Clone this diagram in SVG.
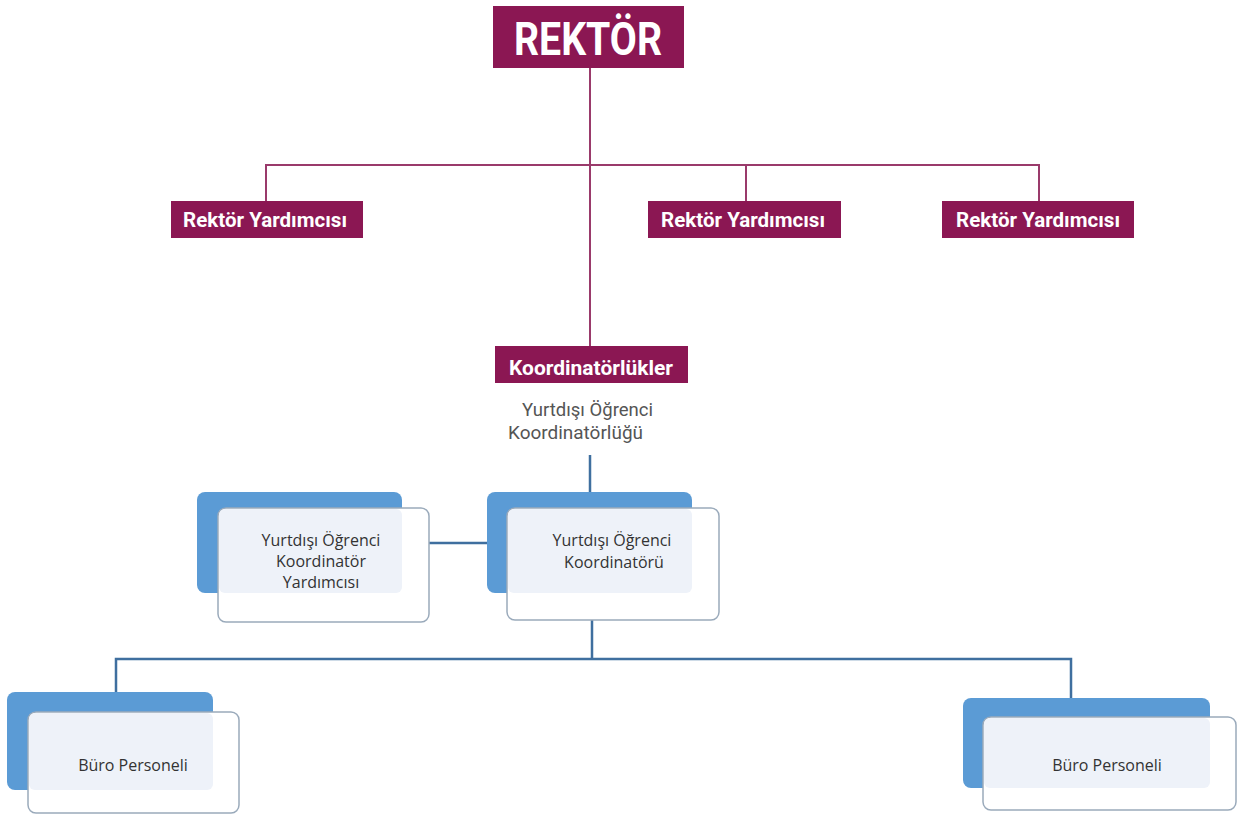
<svg xmlns="http://www.w3.org/2000/svg" width="1238" height="814" viewBox="0 0 1238 814">
<style>
.mr{fill:#8b1753}
.mt{font-family:Roboto,"Liberation Sans",sans-serif;font-weight:bold;fill:#fff}
.pl{stroke:#9a3a6b;stroke-width:2;fill:none}
.bl{stroke:#3f6f9f;stroke-width:2.5;fill:none}
.back{fill:#5b9bd5}
.front{fill:#fff;stroke:#9aaabb;stroke-width:1.5}
.inner{fill:#eef2f9}
.bt{font-family:"Open Sans","Liberation Sans",sans-serif;font-size:16px;fill:#333;text-anchor:middle}
.gt{font-family:Roboto,"Liberation Sans",sans-serif;font-size:19px;fill:#555}
</style>
<rect width="1238" height="814" fill="#fff"/>
<g id="connectors">
<path class="pl" d="M590 68V346M266 201V165H1039V201M746 165V201"/>
<path class="bl" d="M590 455V492M429 543H488M592 620V659M116 692V659H1071V698"/>
</g>
<g id="rektor"><rect class="mr" x="493" y="6" width="191" height="62"/><text class="mt" x="588" y="55" font-size="47" text-anchor="middle" textLength="148" lengthAdjust="spacingAndGlyphs">REKTÖR</text></g>
<g id="ry1"><rect class="mr" x="171" y="201" width="192" height="37"/><text class="mt" x="183" y="227" font-size="20" textLength="164" lengthAdjust="spacingAndGlyphs">Rektör Yardımcısı</text></g>
<g id="ry2"><rect class="mr" x="648" y="201" width="193" height="37"/><text class="mt" x="661" y="227" font-size="20" textLength="164" lengthAdjust="spacingAndGlyphs">Rektör Yardımcısı</text></g>
<g id="ry3"><rect class="mr" x="942" y="201" width="192" height="37"/><text class="mt" x="956" y="227" font-size="20" textLength="164" lengthAdjust="spacingAndGlyphs">Rektör Yardımcısı</text></g>
<g id="koord"><rect class="mr" x="495" y="346" width="193" height="37"/><text class="mt" x="509" y="375" font-size="20" textLength="164" lengthAdjust="spacingAndGlyphs">Koordinatörlükler</text></g>
<g id="yok-label"><text class="gt" x="522" y="416" textLength="131" lengthAdjust="spacingAndGlyphs">Yurtdışı Öğrenci</text><text class="gt" x="508" y="439" textLength="135" lengthAdjust="spacingAndGlyphs">Koordinatörlüğü</text></g>
<g id="yardimci">
<rect class="back" x="197" y="492" width="205" height="101" rx="8"/>
<rect class="front" x="218" y="508" width="211" height="114" rx="8"/>
<rect class="inner" x="219" y="509" width="183" height="84" rx="6"/>
<text class="bt" x="321" y="546">Yurtdışı Öğrenci</text><text class="bt" x="321" y="567">Koordinatör</text><text class="bt" x="321" y="588">Yardımcısı</text>
</g>
<g id="koordinator">
<rect class="back" x="487" y="492" width="205" height="101" rx="8"/>
<rect class="front" x="507" y="508" width="212" height="112" rx="8"/>
<rect class="inner" x="508" y="509" width="184" height="84" rx="6"/>
<text class="bt" x="612" y="546">Yurtdışı Öğrenci</text><text class="bt" x="614" y="568">Koordinatörü</text>
</g>
<g id="buro1">
<rect class="back" x="7" y="692" width="206" height="98" rx="8"/>
<rect class="front" x="28" y="712" width="211" height="101" rx="8"/>
<rect class="inner" x="29" y="713" width="184" height="77" rx="6"/>
<text class="bt" x="133" y="771">Büro Personeli</text>
</g>
<g id="buro2">
<rect class="back" x="963" y="698" width="247" height="90" rx="8"/>
<rect class="front" x="983" y="717" width="253" height="93" rx="8"/>
<rect class="inner" x="984" y="718" width="226" height="70" rx="6"/>
<text class="bt" x="1107" y="771">Büro Personeli</text>
</g>
</svg>
